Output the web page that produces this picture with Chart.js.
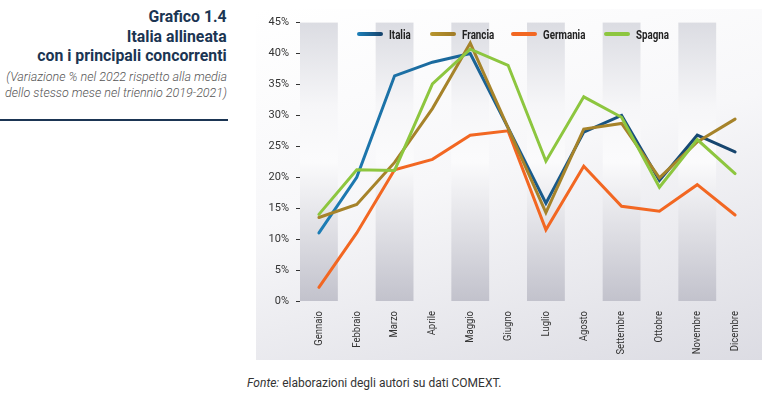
<!DOCTYPE html>
<html lang="it">
<head>
<meta charset="utf-8">
<script src="https://cdn.jsdelivr.net/npm/chart.js@4.4.1/dist/chart.umd.min.js"></script>
<style>
  html, body { margin: 0; padding: 0; background: #fff; }
  body { width: 767px; height: 395px; position: relative; overflow: hidden; font-family: Roboto, sans-serif; }
  .title {
    position: absolute; right: 540px; top: 7px; text-align: right;
    font-weight: bold; font-size: 17px; line-height: 19.5px; color: #1b3553; white-space: nowrap;
    transform: scaleX(0.93); transform-origin: right top;
  }
  .sub {
    position: absolute; right: 540px; top: 69px; text-align: right;
    font-style: italic; font-weight: 300; font-size: 12.5px; line-height: 16px; color: #555;
    white-space: nowrap;
  }
  .rule { position: absolute; left: 0; top: 119px; width: 228px; height: 2px; background: #1b3553; }
  .panel {
    position: absolute; left: 256px; top: 9px; width: 506px; height: 351px;
    background: linear-gradient(165deg, #ffffff 0%, #f7f7f9 45%, #dcdce3 100%);
  }
  .legend { position: absolute; top: 26px; left: 0; height: 16px; }
  .lg { position: absolute; top: 0; display: flex; align-items: center; height: 16px;
        font-weight: bold; font-size: 12.5px; color: #222; white-space: nowrap; }
  .lg .t { display: inline-block; transform: scaleX(0.78); transform-origin: left center; }
  .sw { width: 26px; height: 4px; border-radius: 2px; margin-right: 6px; }
  .foot { position: absolute; left: 247px; top: 376px; font-size: 12px; color: #333; }
</style>
</head>
<body>
<div class="title">Grafico 1.4<br>Italia allineata<br>con i principali concorrenti</div>
<div class="sub">(Variazione % nel 2022 rispetto alla media<br>dello stesso mese nel triennio 2019-2021)</div>
<div class="rule"></div>
<div class="panel"><canvas id="c" width="506" height="351"></canvas></div>
<div class="legend" id="legend"></div>
<div class="foot"><i>Fonte:</i> elaborazioni degli autori su dati COMEXT.</div>
<script>
const mesi = ["Gennaio", "Febbraio", "Marzo", "Aprile", "Maggio", "Giugno",
  "Luglio", "Agosto", "Settembre", "Ottobre", "Novembre", "Dicembre"];
const italia   = [11.0, 20.0, 36.4, 38.6, 40.0, 28.0, 15.8, 27.3, 30.0, 19.5, 26.8, 24.1];
const francia  = [13.5, 15.6, 22.4, 31.1, 41.7, 28.0, 14.3, 27.8, 28.7, 19.9, 25.7, 29.4];
const germania = [2.2, 11.0, 21.2, 22.9, 26.8, 27.5, 11.5, 21.8, 15.3, 14.5, 18.8, 13.9];
const spagna   = [14.0, 21.2, 21.1, 35.1, 40.7, 38.1, 22.6, 33.0, 29.7, 18.4, 26.1, 20.6];
const yTicks = [0, 5, 10, 15, 20, 25, 30, 35, 40, 45];

function italiaGrad(ctx) {
  const chart = ctx.chart;
  const area = chart.chartArea;
  if (!area) return "#1a5a8a";
  const g = chart.ctx.createLinearGradient(area.left, 0, area.right, 0);
  g.addColorStop(0, "#1d80b9");
  g.addColorStop(0.45, "#1a5f90");
  g.addColorStop(1, "#16426a");
  return g;
}

// gray vertical bands behind odd months
const bands = {
  id: "bands",
  beforeDatasetsDraw(chart) {
    const { ctx, chartArea, scales } = chart;
    const w = (chartArea.right - chartArea.left) / mesi.length;
    const top = scales.y.getPixelForValue(45);
    const bottom = scales.y.getPixelForValue(0);
    const g = ctx.createLinearGradient(0, top, 0, bottom);
    g.addColorStop(0, "#dbdce2");
    g.addColorStop(0.3, "#f6f6f8");
    g.addColorStop(0.5, "#fbfbfc");
    g.addColorStop(1, "#c2c2cc");
    ctx.save();
    ctx.fillStyle = g;
    for (let i = 0; i < mesi.length; i += 2) {
      const x = scales.x.getPixelForValue(i);
      ctx.fillRect(x - w / 2, top, w, bottom - top);
    }
    ctx.restore();
  },
};

// month labels, rotated and a bit condensed like the original
const monthLabels = {
  id: "monthLabels",
  afterDraw(chart) {
    const { ctx, chartArea, scales } = chart;
    ctx.save();
    ctx.fillStyle = "#333";
    ctx.font = "11px Roboto";
    ctx.textAlign = "right";
    ctx.textBaseline = "middle";
    mesi.forEach((m, i) => {
      ctx.save();
      ctx.translate(scales.x.getPixelForValue(i), chartArea.bottom + 10);
      ctx.rotate(-Math.PI / 2);
      ctx.scale(0.86, 1);
      ctx.fillText(m, 0, 0);
      ctx.restore();
    });
    ctx.restore();
  },
};

const series = [
  { label: "Italia", data: italia, color: italiaGrad, sw: "linear-gradient(90deg,#1d80b9,#16426a)", order: 2, x: 357 },
  { label: "Francia", data: francia, color: "#a6832a", sw: "linear-gradient(90deg,#b8962e,#a07a26)", order: 1, x: 430 },
  { label: "Germania", data: germania, color: "#f26722", sw: "#f26722", order: 3, x: 511 },
  { label: "Spagna", data: spagna, color: "#8dc63f", sw: "#8dc63f", order: 0, x: 604 },
];

const legend = document.getElementById("legend");
series.forEach((s) => {
  const d = document.createElement("div");
  d.className = "lg";
  d.style.left = s.x + "px";
  d.innerHTML = '<span class="sw" style="background:' + s.sw + '"></span><span class="t">' + s.label + "</span>";
  legend.appendChild(d);
});

new Chart(document.getElementById("c"), {
  type: "line",
  data: {
    labels: mesi,
    datasets: series.map((s) => ({
      label: s.label,
      data: s.data,
      borderColor: s.color,
      borderWidth: 3,
      pointRadius: 0,
      tension: 0,
      order: s.order,
      borderCapStyle: "round",
      borderJoinStyle: "miter",
    })),
  },
  options: {
    responsive: false,
    animation: false,
    layout: { padding: { top: 13, right: 8, left: 0, bottom: 0 } },
    plugins: { legend: { display: false }, tooltip: { enabled: false } },
    scales: {
      x: {
        offset: true,
        grid: { display: false },
        border: { display: false },
        ticks: { display: false },
        afterFit(scale) { scale.height = 59; },
      },
      y: {
        min: 0, max: 45,
        afterBuildTicks(scale) { scale.ticks = yTicks.map((v) => ({ value: v })); },
        grid: { drawOnChartArea: false, drawTicks: true, tickLength: 4, color: "#333" },
        border: { display: false },
        ticks: {
          padding: 7, color: "#333", font: { family: "Roboto", size: 11 },
          callback: (v) => v + "%",
        },
        afterFit(scale) { scale.width = 44; },
      },
    },
  },
  plugins: [bands, monthLabels],
});
</script>
</body>
</html>
